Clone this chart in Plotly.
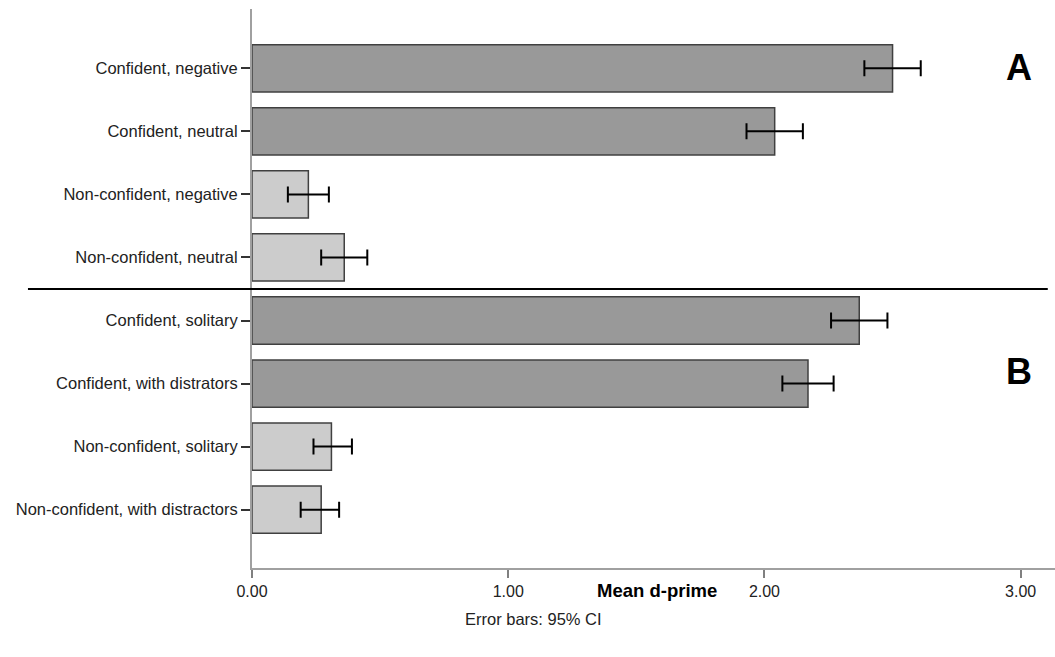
import plotly.graph_objects as go

categories = [
    "Confident, negative",
    "Confident, neutral",
    "Non-confident, negative",
    "Non-confident, neutral",
    "Confident, solitary",
    "Confident, with distrators",
    "Non-confident, solitary",
    "Non-confident, with distractors",
]
mean_dprime = [2.50, 2.04, 0.22, 0.36, 2.37, 2.17, 0.31, 0.27]
ci_low = [2.39, 1.93, 0.14, 0.27, 2.26, 2.07, 0.24, 0.19]
ci_high = [2.61, 2.15, 0.30, 0.45, 2.48, 2.27, 0.39, 0.34]
confident = [True, True, False, False, True, True, False, False]
x_tick_vals = [0, 1, 2, 3]
x_tick_text = ["0.00", "1.00", "2.00", "3.00"]

DARK = "#999999"
LIGHT = "#cccccc"
FONT = "Liberation Sans, Arial, sans-serif"

positions = list(range(len(categories)))
plus = [h - m for h, m in zip(ci_high, mean_dprime)]
minus = [m - l for m, l in zip(mean_dprime, ci_low)]
colors = [DARK if c else LIGHT for c in confident]

fig = go.Figure()
fig.add_trace(go.Bar(
    y=positions,
    x=mean_dprime,
    orientation="h",
    width=0.75,
    marker=dict(color=colors, line=dict(color="#404040", width=1.5)),
    error_x=dict(type="data", symmetric=False, array=plus, arrayminus=minus,
                 color="black", thickness=2, width=8),
    showlegend=False,
))

def note(text, x, y, size, color="black"):
    return dict(text=text, xref="paper", yref="paper", x=x, y=y,
                xanchor="center", yanchor="middle", showarrow=False,
                font=dict(size=size, family=FONT, color=color))

fig.update_layout(
    width=1055, height=657,
    margin=dict(l=252, r=0, t=9, b=89),
    paper_bgcolor="white", plot_bgcolor="white",
    font=dict(family=FONT, color="#222222"),
    xaxis=dict(
        range=[0, 3.134],
        tickvals=x_tick_vals, ticktext=x_tick_text,
        showgrid=False, zeroline=False,
        showline=True, linecolor="#a0a0a0", linewidth=2,
        ticks="outside", ticklen=8, tickcolor="#808080", tickwidth=2,
        tickfont=dict(size=16, family=FONT, color="#222222"),
    ),
    yaxis=dict(
        range=[7.925, -0.94],
        tickvals=positions, ticktext=categories,
        showgrid=False, zeroline=False,
        showline=True, linecolor="#a0a0a0", linewidth=2,
        ticks="outside", ticklen=9, tickcolor="#333333", tickwidth=1.5,
        tickfont=dict(size=16.5, family=FONT, color="#222222"),
    ),
    shapes=[dict(type="line", xref="paper", yref="y",
                 x0=-0.279, x1=0.991, y0=3.5, y1=3.5,
                 line=dict(color="black", width=2))],
    annotations=[
        note("<b>A</b>", 0.955, 0.895, 36),
        note("<b>B</b>", 0.955, 0.351, 36),
        note("<b>Mean d-prime</b>", 0.504, -0.041, 18.5),
        note("Error bars: 95% CI", 0.351, -0.091, 16.5, "#222222"),
    ],
)

fig.write_html("out.html")
